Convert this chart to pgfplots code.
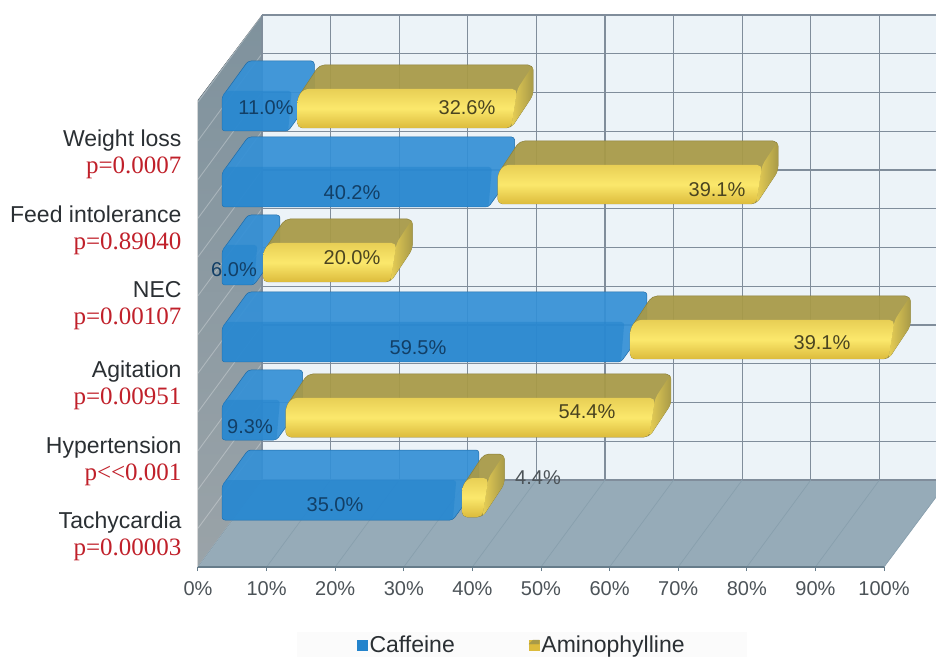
\documentclass[border=0pt]{standalone}
\usepackage{pgfplots}
\usepackage{fontspec}
\pgfplotsset{compat=1.18}
\setmainfont{Liberation Sans}
\newfontfamily\pfont{Liberation Serif}

\definecolor{wallback}{HTML}{ECF3F8}
\definecolor{wallside}{HTML}{7F929D}
\definecolor{wallsidelow}{HTML}{9AA3A8}
\definecolor{floorc}{HTML}{96ABB8}
\definecolor{gridc}{HTML}{808D9B}
\definecolor{floorline}{HTML}{889FAD}
\definecolor{axisc}{HTML}{667C8A}
\definecolor{bluetop}{HTML}{3490D6}
\definecolor{bluefront}{HTML}{2484CC}
\definecolor{blueedge}{HTML}{1D6BA8}
\definecolor{yelhi}{HTML}{FBE86C}
\definecolor{yellow1}{HTML}{E8CF55}
\definecolor{yellow2}{HTML}{DCBB3C}
\definecolor{olive}{HTML}{A89A48}
\definecolor{oliveedge}{HTML}{8A7F38}
\definecolor{pred}{HTML}{C0202A}
\definecolor{ticktext}{HTML}{4C5358}
\definecolor{cattext}{HTML}{2A2F33}

% Category label: a sans name above a serif p value
\newcommand\cat[2]{#1\\{\fontsize{25}{27}\pfont\color{pred}#2}}

% One row of the chart: caffeine value, aminophylline value, base height of the row
\newcommand\rowbars[3]{%
  \pgfmathsetmacro\xe{#1-1.35}%
  \pgfmathsetmacro\xeb{\xe+3.8}%
  \pgfmathsetmacro\yl{#3+34}%
  \pgfmathsetmacro\yf{#3+40}%
  \pgfmathsetmacro\ym{#3+36}%
  \pgfmathsetmacro\yt{#3+70}%
  \pgfmathsetmacro\xfl{0.45}%
  \pgfmathsetmacro\xfr{\xe+0.5}%
  \edef\tmp{\noexpand\addplot[forget plot,draw=blueedge,line width=.5pt,fill=bluetop,fill opacity=.92,rounded corners=3pt]
    coordinates {(0,#3) (0,\yl) (3.8,\yt) (\xeb,\yt) (\xeb,\ym) (\xe,#3)} --cycle;}\tmp
  \edef\tmp{\noexpand\addplot[forget plot,draw=none,fill=bluefront,fill opacity=.55,rounded corners=3pt]
    coordinates {(0,#3) (0,\yl) (\xfl,\yf) (\xfr,\yf) (\xe,#3)} --cycle;}\tmp
  \pgfmathsetmacro\xa{#1}%
  \pgfmathsetmacro\xb{#1+#2-1.45}%
  \pgfmathsetmacro\xab{\xa+3.2}%
  \pgfmathsetmacro\xbb{\xb+3.2}%
  \pgfmathsetmacro\xaf{\xa+0.9}%
  \pgfmathsetmacro\xbf{\xb+0.9}%
  \pgfmathsetmacro\by{#3+3}%
  \pgfmathsetmacro\byl{\by+30}%
  \pgfmathsetmacro\byf{\by+39}%
  \pgfmathsetmacro\byr{\by+33}%
  \pgfmathsetmacro\byt{\by+63}%
  \edef\tmp{\noexpand\addplot[forget plot,draw=oliveedge,line width=.5pt,fill=olive,fill opacity=.94,rounded corners=5pt]
    coordinates {(\xa,\by) (\xa,\byl) (\xab,\byt) (\xbb,\byt) (\xbb,\byr) (\xb,\by)} --cycle;}\tmp
  \edef\tmp{\noexpand\addplot[forget plot,draw=none,left color=yellow1,right color=olive,rounded corners=4pt]
    coordinates {(\xbf,\byf) (\xbb,\byt) (\xbb,\byr) (\xb,\by)} --cycle;}\tmp
  \edef\tmp{\noexpand\addplot[forget plot,draw=none,top color=yellow1,bottom color=yellow2,middle color=yelhi,rounded corners=5pt]
    coordinates {(\xa,\by) (\xa,\byl) (\xaf,\byf) (\xbf,\byf) (\xb,\by)} --cycle;}\tmp
}

% Value label, placed by its distance from the picture's top left corner
\newcommand\vlabel[4]{\node[text=#4,font=\fontsize{20}{20}\selectfont,inner sep=0pt] at ({(#1-198)*1pt},{(567-#2)*1pt}) {#3};}

\begin{document}
\begin{tikzpicture}
\useasboundingbox (-198pt,-89pt) rectangle (738pt,567pt);

% Chart box: walls, floor, grid, percentage axis, category labels, legend
\begin{axis}[
  at={(0pt,0pt)},anchor=south west,
  scale only axis,width=686pt,height=567pt,
  xmin=0,xmax=100,ymin=0,ymax=567,
  clip=false,axis on top,
  axis x line=bottom,axis y line=left,
  axis line style={-},
  x axis line style={draw=axisc,line width=1.6pt},
  y axis line style={draw=none},
  xtick={0,10,...,100},
  xticklabels={0\%,10\%,20\%,30\%,40\%,50\%,60\%,70\%,80\%,90\%,100\%},
  xtick align=outside,
  major tick length=4pt,
  x tick style={draw=axisc,line width=1pt},
  y tick style={draw=none},
  x tick label style={font=\fontsize{20}{20}\selectfont,text=ticktext,yshift=-7pt},
  ytick={412.5,336.5,261,181.5,105.5,30.5},
  yticklabels={
    {\cat{Weight loss}{p=0.0007}},
    {\cat{Feed intolerance}{p=0.89040}},
    {\cat{NEC}{p=0.00107}},
    {\cat{Agitation}{p=0.00951}},
    {\cat{Hypertension}{p<<0.001}},
    {\cat{Tachycardia}{p=0.00003}}},
  y tick label style={font=\fontsize{23}{27}\selectfont,text=cattext,align=right,anchor=east,xshift=-11pt},
  legend style={at={(0.472,-0.1376)},anchor=center,draw=none,fill=black!1.5,
    font=\fontsize{23}{24}\selectfont,text=cattext,legend columns=2,
    /tikz/every even column/.append style={column sep=72pt},
    inner xsep=60pt,inner ysep=2pt},
]
  % back wall
  \fill[wallback] (axis cs:9.33,87) rectangle (axis cs:107.6,552);
  % side wall
  \fill[top color=wallside,bottom color=wallsidelow] (axis cs:0,0) -- (axis cs:0,467) -- (axis cs:9.33,552) -- (axis cs:9.33,87) -- cycle;
  % floor
  \fill[floorc] (axis cs:0,0) -- (axis cs:100,0) -- (axis cs:107.6,70) -- (axis cs:107.6,87) -- (axis cs:9.33,87) -- cycle;
  % wall grid
  \pgfplotsinvokeforeach{0,1,...,12}{
    \draw[gridc,line width=1.1pt] (axis cs:9.33,{87+38.75*#1}) -- (axis cs:107.6,{87+38.75*#1});
    \draw[white,opacity=.28,line width=.9pt] (axis cs:0,{38.75*#1}) -- (axis cs:9.33,{87+38.75*#1});
  }
  \pgfplotsinvokeforeach{0,1,...,9}{
    \draw[gridc,line width=1.1pt] (axis cs:{9.33+10*#1},87) -- (axis cs:{9.33+10*#1},552);
    \draw[floorline,line width=.7pt] (axis cs:{10*#1},0) -- (axis cs:{9.33+10*#1},87);
  }
  \draw[floorline,line width=.7pt] (axis cs:100,0) -- (axis cs:107.6,70);
  \addlegendimage{legend image code/.code={\fill[bluefront] (0.06cm,-5pt) rectangle (0.42cm,5pt);}}
  \addlegendentry{Caffeine}
  \addlegendimage{legend image code/.code={\fill[yellow2] (0.06cm,-5pt) rectangle (0.42cm,5pt);\fill[olive] (0.06cm,1pt) -- (0.42cm,1pt) -- (0.42cm,5pt) -- (0.2cm,5pt) -- cycle;}}
  \addlegendentry{Aminophylline}
\end{axis}

% Bars, set slightly in front of the side wall
\begin{axis}[
  at={(24pt,0pt)},anchor=south west,
  scale only axis,width=686pt,height=567pt,
  xmin=0,xmax=100,ymin=0,ymax=567,
  clip=false,hide axis,
]
  %         caffeine  aminophylline  base
  \rowbars{11.0}{32.6}{436}
  \rowbars{40.2}{39.1}{360}
  \rowbars{6.0}{20.0}{282}
  \rowbars{59.5}{39.1}{205}
  \rowbars{9.3}{54.4}{127}
  \rowbars{35.0}{4.4}{47}
\end{axis}

\definecolor{bluetxt}{HTML}{123F66}
\definecolor{yeltxt}{HTML}{4A4420}
\vlabel{266}{108}{11.0\%}{bluetxt}
\vlabel{467}{108}{32.6\%}{yeltxt}
\vlabel{352}{193}{40.2\%}{bluetxt}
\vlabel{717}{190}{39.1\%}{yeltxt}
\vlabel{234}{270}{6.0\%}{bluetxt}
\vlabel{352}{258}{20.0\%}{yeltxt}
\vlabel{418}{348}{59.5\%}{bluetxt}
\vlabel{822}{343}{39.1\%}{yeltxt}
\vlabel{250}{427}{9.3\%}{bluetxt}
\vlabel{587}{412}{54.4\%}{yeltxt}
\vlabel{335}{505}{35.0\%}{bluetxt}
\vlabel{538}{478}{4.4\%}{ticktext}
\end{tikzpicture}
\end{document}
